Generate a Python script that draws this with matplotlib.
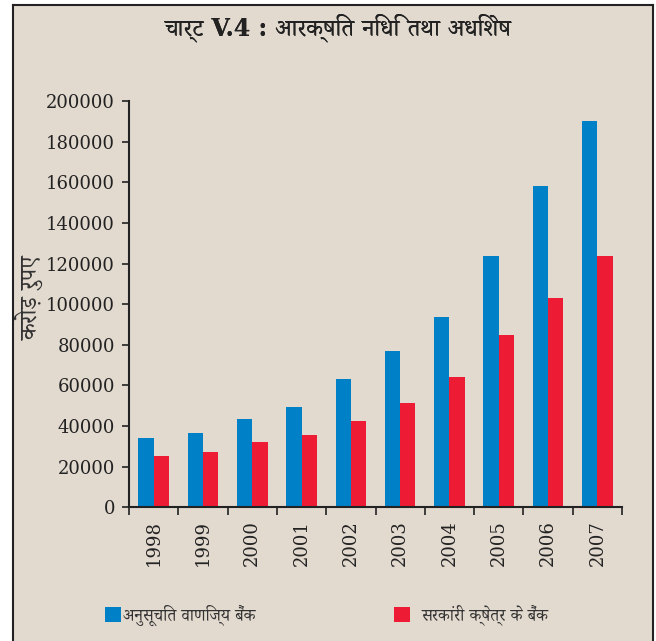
import matplotlib
matplotlib.use("Agg")
import matplotlib.pyplot as plt
from matplotlib import font_manager
from matplotlib.ft2font import FT2Font
from matplotlib.patches import Rectangle
from matplotlib.lines import Line2D
import numpy as np

# ---------------- data ----------------
years = ["1998", "1999", "2000", "2001", "2002", "2003", "2004", "2005", "2006", "2007"]
scheduled_banks = [34300, 36600, 43500, 49200, 63000, 76800, 93900, 123700, 158200, 190300]
public_banks = [25100, 27400, 32000, 35400, 42300, 51500, 64200, 84800, 103000, 123700]
y_ticks = [0, 20000, 40000, 60000, 80000, 100000, 120000, 140000, 160000, 180000, 200000]

title = "चार्ट V.4 : आरक्षित निधि तथा अधिशेष"
y_label = "करोड़ रुपए"
legend_blue = "अनुसूचित वाणिज्य बैंक"
legend_red = "सरकांरी क्षेत्र के बैंक"

BLUE = "#0080C6"
RED = "#ED1B34"
BG = "#E2D9CF"


def find_devanagari():
    found = []
    seen = set()
    for f in font_manager.fontManager.ttflist:
        if f.name in seen or "CJK" in f.name:
            continue
        seen.add(f.name)
        try:
            cm = FT2Font(f.fname).get_charmap()
            if 0x0915 in cm:
                found.append(f.name)
        except Exception:
            pass
    found.sort(key=lambda n: (("Serif" not in n), ("Devanagari" not in n)))
    return found


deva = find_devanagari()
SERIF = ["DejaVu Serif"] + deva[:1]
plt.rcParams["font.family"] = SERIF

W, H = 656, 641
fig = plt.figure(figsize=(W / 100, H / 100), dpi=100, facecolor="white")

# outer panel
fig.patches.append(Rectangle((13 / W, 0), (653 - 13) / W, (636) / H,
                             transform=fig.transFigure, facecolor=BG,
                             edgecolor="none", zorder=-5))
for xs, ys in [([13, 13], [0, 636]), ([13, 653], [636, 636]), ([653, 653], [0, 636])]:
    fig.lines.append(Line2D([x / W for x in xs], [y / H for y in ys],
                            transform=fig.transFigure, color="#222222", lw=1.5,
                            zorder=-4))

ax = fig.add_axes([129 / W, 133.7 / H, (622 - 129) / W, (540 - 133.7) / H])
ax.set_zorder(2)
ax.patch.set_alpha(0)

x = np.arange(len(years))
w = 0.31
b1 = ax.bar(x - w / 2, scheduled_banks, width=w, color=BLUE, label=legend_blue)
b2 = ax.bar(x + w / 2, public_banks, width=w, color=RED, label=legend_red)

ax.set_xlim(-0.5, len(years) - 0.5)
ax.set_ylim(0, 200000)
ax.set_yticks(y_ticks)
ax.set_yticklabels([str(v) for v in y_ticks], fontsize=13, color="#222222")
ax.set_xticks(x)
ax.set_xticklabels(years, rotation=90, fontsize=13, color="#222222")
ax.set_xticks(np.arange(-0.5, len(years)), minor=True)
ax.tick_params(axis="x", which="major", length=0, pad=9)
ax.tick_params(axis="x", which="minor", length=6, width=1.2, direction="out", color="#222222")
ax.tick_params(axis="y", length=5, width=1.2, direction="out", pad=5, color="#222222")

for s in ["top", "right"]:
    ax.spines[s].set_visible(False)
for s in ["left", "bottom"]:
    ax.spines[s].set_color("#222222")
    ax.spines[s].set_linewidth(1.5)

fig.text(30 / W, 1 - 298 / H, y_label, rotation=90, ha="center", va="center",
         fontsize=17, color="#333333")
# title drawn twice with a sub-pixel offset to thicken the strokes
for dx in (0.0, 0.6):
    fig.text((338 + dx) / W, 1 - 28 / H, title, ha="center", va="center",
             fontsize=17, fontweight="bold", color="#222222")

leg1 = fig.legend(handles=[b1], labels=[legend_blue], loc="center left",
                  bbox_to_anchor=(98 / W, 1 - 615 / H), frameon=False,
                  fontsize=12, handlelength=0.95, handleheight=1.0,
                  handletextpad=0.15, borderaxespad=0)
leg2 = fig.legend(handles=[b2], labels=[legend_red], loc="center left",
                  bbox_to_anchor=(387 / W, 1 - 615 / H), frameon=False,
                  fontsize=12, handlelength=0.95, handleheight=1.0,
                  handletextpad=0.7, borderaxespad=0)
for leg in (leg1, leg2):
    for t in leg.get_texts():
        t.set_color("#333333")

fig.savefig("out.png", dpi=100, facecolor="white")
